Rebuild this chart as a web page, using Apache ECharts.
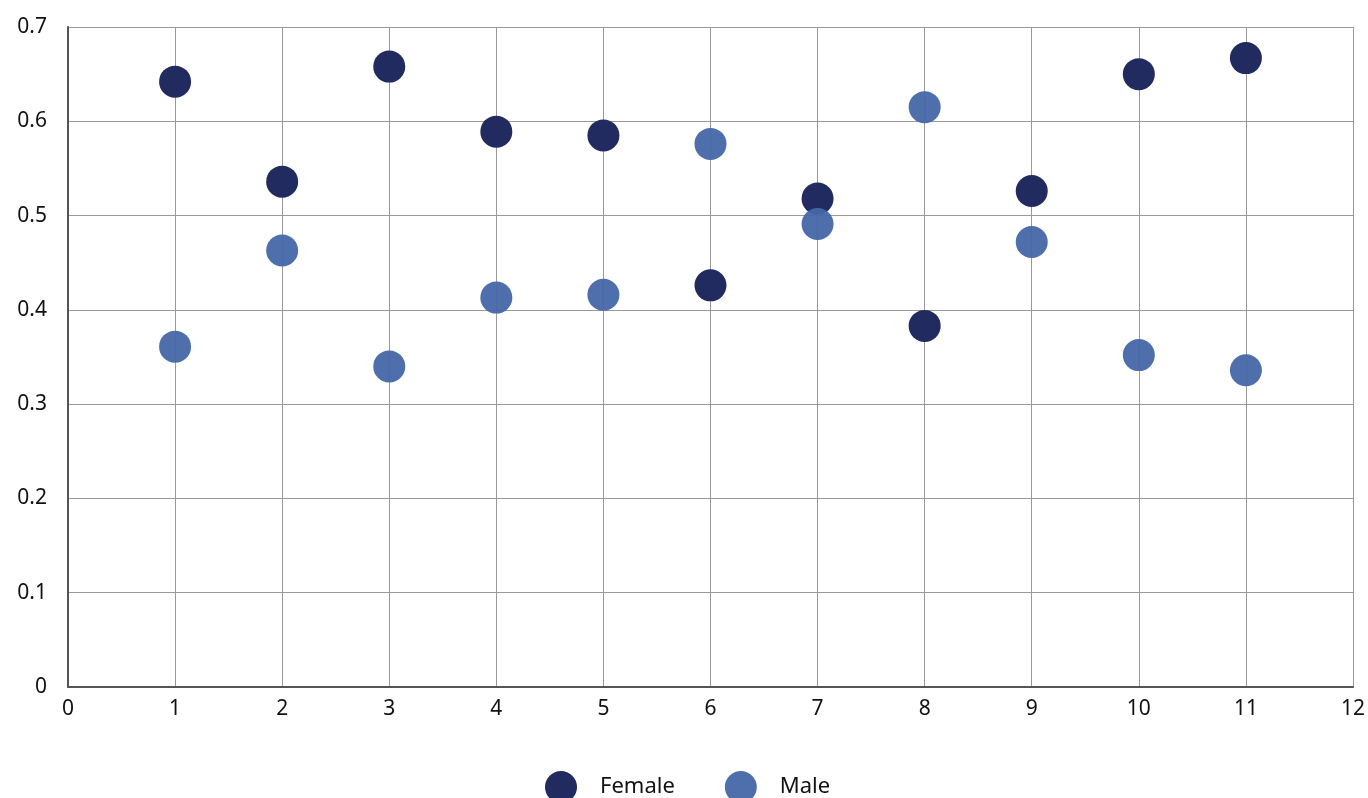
<!DOCTYPE html>
<html><head><meta charset="utf-8">
<script src="https://cdn.jsdelivr.net/npm/echarts@6/dist/echarts.min.js"></script>
<style>html,body{margin:0;padding:0;background:#fff}#c{width:1368px;height:798px}</style>
</head><body><div id="c"></div>
<script>
const xValues = [1,2,3,4,5,6,7,8,9,10,11];
const femaleValues = [0.642,0.536,0.658,0.589,0.585,0.426,0.518,0.383,0.526,0.650,0.667];
const maleValues = [0.361,0.463,0.340,0.413,0.416,0.576,0.491,0.615,0.472,0.352,0.336];
const seriesNames = ['Female','Male'];

const chart = echarts.init(document.getElementById('c'));
const font = '"Noto Sans", sans-serif';
chart.setOption({
  animation:false,
  grid:{left:68,right:14,top:27,bottom:111,containLabel:false},
  legend:{
    data:seriesNames, bottom:-10, left:540, itemWidth:32, itemHeight:32, itemGap:50,
    icon:'circle', textStyle:{fontSize:22,color:'#111',fontFamily:font,padding:[0,0,0,18]}
  },
  xAxis:{type:'value',min:0,max:12,interval:1,
    axisLine:{show:true,lineStyle:{color:'#555',width:2}},
    axisTick:{show:false},
    axisLabel:{fontSize:21,color:'#111',fontFamily:font,margin:12},
    splitLine:{show:true,lineStyle:{color:'#999',width:1}}
  },
  yAxis:{type:'value',min:0,max:0.7,interval:0.1,
    axisLine:{show:true,lineStyle:{color:'#555',width:2}},
    axisTick:{show:false},
    axisLabel:{fontSize:21,color:'#111',fontFamily:font,margin:21,formatter:v=>String(Math.round(v*10)/10)},
    splitLine:{show:true,lineStyle:{color:'#999',width:1}}
  },
  series:[
    {name:'Female',type:'scatter',symbolSize:32,itemStyle:{color:'#222b5f',opacity:1},
     data:xValues.map((x,i)=>[x,femaleValues[i]])},
    {name:'Male',type:'scatter',symbolSize:32,itemStyle:{color:'#4467a6',opacity:0.95},
     data:xValues.map((x,i)=>[x,maleValues[i]])}
  ]
});
</script></body></html>
